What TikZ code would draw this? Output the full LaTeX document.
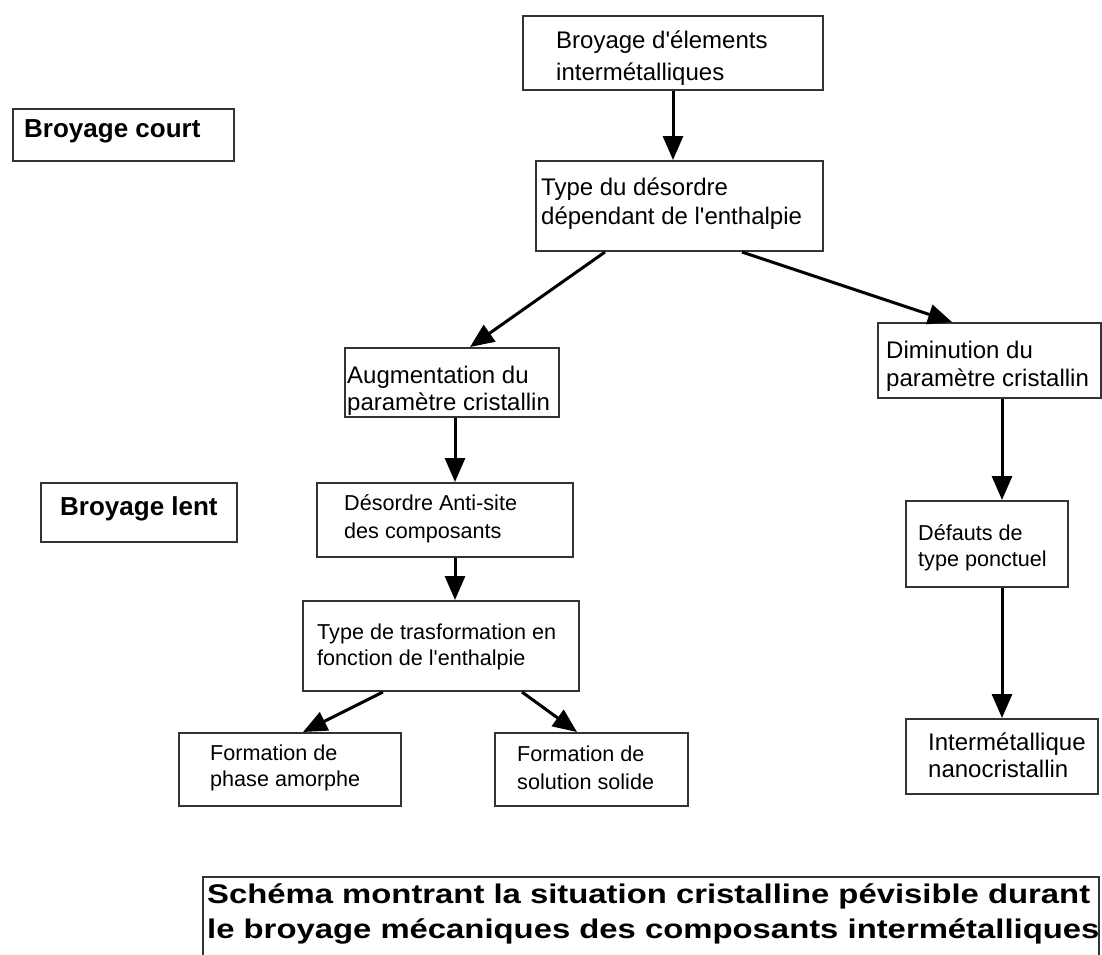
\documentclass[tikz,border=0pt]{standalone}
\usepackage{fontspec}
\setmainfont{Liberation Sans}[Ligatures=TeXOff]
\usetikzlibrary{arrows.meta,calc}
\tikzset{
  box/.style={draw=black!80, line width=2pt, fill=white, inner sep=0pt, anchor=north west},
  tbig/.style={anchor=base west, inner sep=0pt, font=\fontsize{24}{28}\selectfont},
  tsmall/.style={anchor=base west, inner sep=0pt, font=\fontsize{21.6}{26}\selectfont},
  tbold/.style={anchor=base west, inner sep=0pt, font=\fontsize{26}{30}\selectfont\bfseries},
  tcap/.style={anchor=base west, inner sep=0pt, font=\fontsize{27}{32}\selectfont\bfseries},
  arr/.style={line width=3pt, -{Triangle[length=24pt,width=20pt]}},
}
\begin{document}
\begin{tikzpicture}[x=1pt,y=-1pt]
\useasboundingbox (0,0) rectangle (1102,954);
% boxes
\node[box, minimum width=300pt, minimum height=74pt] (A) at (522,15) {};
\node[box, minimum width=221pt, minimum height=52pt] (court) at (12,108) {};
\node[box, minimum width=287pt, minimum height=90pt] (B) at (535,160) {};
\node[box, minimum width=214pt, minimum height=69pt] (Aug) at (344,347) {};
\node[box, minimum width=223pt, minimum height=75pt] (Dim) at (877,322) {};
\node[box, minimum width=196pt, minimum height=59pt] (lent) at (40,482) {};
\node[box, minimum width=256pt, minimum height=74pt] (Des) at (316,482) {};
\node[box, minimum width=276pt, minimum height=90pt] (Typ) at (302,600) {};
\node[box, minimum width=162pt, minimum height=86pt] (Def) at (905,500) {};
\node[box, minimum width=192pt, minimum height=75pt] (Int) at (905,718) {};
\node[box, minimum width=222pt, minimum height=73pt] (Am) at (178,732) {};
\node[box, minimum width=193pt, minimum height=73pt] (So) at (494,732) {};
\node[box, minimum width=896pt, minimum height=100pt] (Cap) at (202,876) {};
% texts
\node[tbig] (A1) at (556,48) {Broyage d'élements};
\node[tbig] (A2) at (556,80) {intermétalliques};
\node[tbold] (court1) at (24,137) {Broyage court};
\node[tbig] (B1) at (541,195) {Type du désordre};
\node[tbig] (B2) at (541,224) {dépendant de l'enthalpie};
\node[tbig] (Aug1) at (347,383) {Augmentation du};
\node[tbig] (Aug2) at (347,410) {paramètre cristallin};
\node[tbig] (Dim1) at (886,358) {Diminution du};
\node[tbig] (Dim2) at (886,386) {paramètre cristallin};
\node[tbold] (lent1) at (60,515) {Broyage lent};
\node[tsmall] (Des1) at (344,510) {Désordre Anti-site};
\node[tsmall] (Des2) at (344,538) {des composants};
\node[tsmall] (Typ1) at (317,639) {Type de trasformation en};
\node[tsmall] (Typ2) at (317,665) {fonction de l'enthalpie};
\node[tsmall] (Def1) at (918,540) {Défauts de};
\node[tsmall] (Def2) at (918,566) {type ponctuel};
\node[tbig] (Int1) at (928,750) {Intermétallique};
\node[tbig] (Int2) at (928,777) {nanocristallin};
\node[tsmall] (Am1) at (210,760) {Formation de};
\node[tsmall] (Am2) at (210,786) {phase amorphe};
\node[tsmall] (So1) at (517,761) {Formation de};
\node[tsmall] (So2) at (517,789) {solution solide};
\node[tcap] (Cap1) at (207,903) {\scalebox{1.216}[1]{Schéma montrant la situation cristalline pévisible durant}};
\node[tcap] (Cap2) at (207,938) {\scalebox{1.216}[1]{le broyage mécaniques des composants intermétalliques}};
% connectors
\draw[arr] (A.south) -- (A.south |- B.north);
\draw[arr] ([xshift=70pt]B.south west) -- ([xshift=126pt]Aug.north west);
\draw[arr] ([xshift=207pt]B.south west) -- ([xshift=75pt]Dim.north west);
\draw[arr] ([xshift=111pt]Aug.south west) -- ([xshift=111pt]Aug.south west |- Des.north);
\draw[arr] ([xshift=139pt]Des.south west) -- ([xshift=139pt]Des.south west |- Typ.north);
\draw[arr] (Dim.south -| Int.north) -- (Int.north |- Def.north);
\draw[arr] (Def.south -| Int.north) -- (Int.north);
\draw[arr] ([xshift=81pt]Typ.south west) -- ([xshift=125pt]Am.north west);
\draw[arr] ([xshift=220pt]Typ.south west) -- ([xshift=83pt]So.north west);
\end{tikzpicture}
\end{document}
